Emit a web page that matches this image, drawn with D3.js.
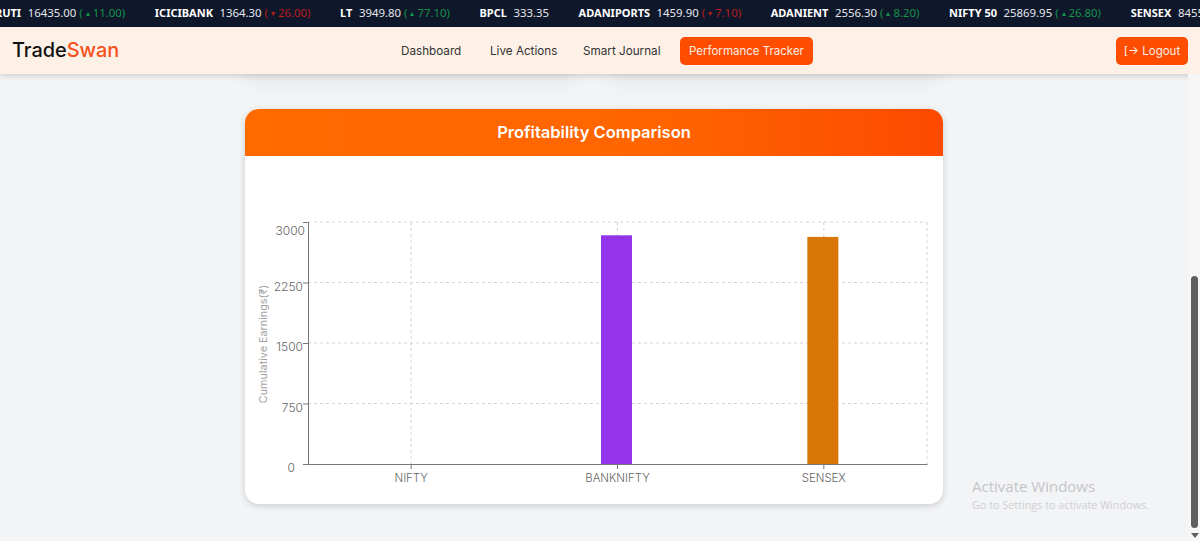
<!DOCTYPE html>
<html><head><meta charset="utf-8">
<script src="https://cdn.jsdelivr.net/npm/d3@7/dist/d3.min.js"></script>
<style>
html,body{margin:0;padding:0;width:1200px;height:541px;overflow:hidden;background:#f3f4f6;font-family:Inter,"Noto Sans",sans-serif}
#ticker{position:absolute;left:0;top:0;width:1200px;height:27px;background:#0f172a;overflow:hidden;white-space:nowrap;font:11.4px/27px "Noto Sans",sans-serif;color:#e5e7eb}
#ticker .row{position:absolute;left:-23px;top:-1px;display:flex;gap:29.6px}
#ticker b{color:#fff;font-weight:700;font-size:11px;margin-right:6.5px}
.up{color:#15934a}.down{color:#b91c1c}
#nav{position:absolute;left:0;top:27px;width:1200px;height:47px;background:#fdf1e7;box-shadow:0 2px 6px rgba(0,0,0,.16)}
#logo{position:absolute;left:12px;top:9px;font:500 19.9px/29px Inter,sans-serif;color:#111}
#logo span{color:#f4511e}
.link{position:absolute;top:10.5px;height:27px;font:11.7px/27px Inter,sans-serif;color:#333;white-space:nowrap}
.btn{position:absolute;top:10px;height:28px;background:#ff4d00;border-radius:5px;color:#fdeee3;font:11.5px/28px Inter,sans-serif;text-align:center;white-space:nowrap}
.ghost{position:absolute;top:66px;height:16px;background:rgba(0,0,0,.06);filter:blur(9px);border-radius:12px}
#card{position:absolute;left:245px;top:109px;width:698px;height:395px;background:#fff;border-radius:14px;box-shadow:0 2px 7px rgba(0,0,0,.16);overflow:hidden}
#head{height:47px;background:linear-gradient(90deg,#ff6a00 0%,#ff6400 60%,#fc4a00 100%);color:#fff;font:600 16.5px/47px Inter,sans-serif;text-align:center}
#chart{position:absolute;left:0;top:0}
#wm1{position:absolute;left:972px;top:476px;font:15px/20px "Open Sans",sans-serif;color:#c4c5c8}
#wm2{position:absolute;left:972px;top:497px;font:10.8px/16px "Open Sans",sans-serif;color:#cfd0d3}
#track{position:absolute;left:1188px;top:74px;width:12px;height:467px;background:#f6f6f7}
#thumb{position:absolute;left:1191px;top:276px;width:7px;height:252px;background:#5f5f5f;border-radius:4px}
#arrow{position:absolute;left:1191px;top:533px}
</style></head><body>
<div class="ghost" style="left:245px;width:330px"></div>
<div class="ghost" style="left:610px;width:330px"></div>
<div id="ticker"><div class="row"></div></div>
<div id="nav"><div id="logo">Trade<span>Swan</span></div></div>
<div id="card"><div id="head">Profitability Comparison</div></div>
<svg id="chart" width="1200" height="541" style="pointer-events:none"></svg>
<div id="wm1">Activate Windows</div><div id="wm2">Go to Settings to activate Windows.</div>
<div id="track"></div><div id="thumb"></div>
<svg id="arrow" width="8" height="6"><path d="M0 0H8L4 5Z" fill="#5f5f5f"/></svg>
<script>
const categories = ["NIFTY","BANKNIFTY","SENSEX"];
const earnings = [0,2835,2815];
const barColors = ["#2563eb","#9333ea","#d97706"];
const yTicks = [0,750,1500,2250,3000];
const yLabel = "Cumulative Earnings(₹)";
const tickerNames = ["MARUTI","ICICIBANK","LT","BPCL","ADANIPORTS","ADANIENT","NIFTY 50","SENSEX"];
const tickerPrices = ["16435.00","1364.30","3949.80","333.35","1459.90","2556.30","25869.95","84550.00"];
const tickerChanges = [11.00,-26.00,77.10,null,-7.10,8.20,26.80,null];
const navLinks = ["Dashboard","Live Actions","Smart Journal"];

const row = d3.select("#ticker .row");
tickerNames.forEach((n,i)=>{
  const s = row.append("span");
  s.append("b").text(n);
  s.append("span").text(tickerPrices[i]);
  const c = tickerChanges[i];
  if(c!==null){
    s.append("span").attr("class",c>0?"up":"down").style("margin-left","3px")
     .html(`( <span style="font-size:8px;vertical-align:1px">${c>0?"▴":"▾"}</span> ${Math.abs(c).toFixed(2)})`);
  }
});

const nav = d3.select("#nav");
const linkX = [401,490,583];
navLinks.forEach((t,i)=>nav.append("div").attr("class","link").style("left",linkX[i]+"px").text(t));
nav.append("div").attr("class","btn").style("left","680px").style("width","133px").text("Performance Tracker");
nav.append("div").attr("class","btn").style("left","1116px").style("width","72px").html("[→ Logout");

const svg = d3.select("#chart");
const L=308,R=927,T=222,B=464;
const x = d3.scaleBand().domain(categories).range([L,R]);
const y = d3.scaleLinear().domain([0,3000]).range([B,T]);
const barW = 31;

// grid
const grid = svg.append("g").attr("stroke","#d4d4d4").attr("stroke-dasharray","3 3").attr("fill","none");
grid.selectAll("line.h").data(yTicks.slice(1)).join("line").attr("class","h")
  .attr("x1",L).attr("x2",R).attr("y1",d=>y(d)).attr("y2",d=>y(d));
grid.selectAll("line.v").data(categories).join("line").attr("class","v")
  .attr("x1",d=>x(d)+x.bandwidth()/2).attr("x2",d=>x(d)+x.bandwidth()/2).attr("y1",T).attr("y2",B);
grid.append("line").attr("x1",R).attr("x2",R).attr("y1",T).attr("y2",B);

// bars
svg.selectAll("rect.bar").data(categories).join("rect").attr("class","bar")
  .attr("x",d=>x(d)+x.bandwidth()/2-barW/2-1).attr("width",barW)
  .attr("y",(d,i)=>y(earnings[i])).attr("height",(d,i)=>B-y(earnings[i]))
  .attr("fill",(d,i)=>barColors[i]);

// axes
const styleAxis = (g,size)=>{
  g.selectAll("path,line").attr("stroke","#777");
  g.selectAll("text").attr("fill","#666").style("font",size+"px Inter,sans-serif").style("font-weight","300");
};
const gy = svg.append("g").attr("transform",`translate(${L},0)`)
  .call(d3.axisLeft(y).tickValues(yTicks).tickSize(5).tickPadding(0).tickSizeOuter(5).tickFormat(d3.format("d")));
styleAxis(gy,12);
gy.selectAll(".tick text")
  .attr("x",d=>d===0?-13:d===3000?-3:-5)
  .attr("dy",d=>d===3000?"1.0em":"0.65em");
const gx = svg.append("g").attr("transform",`translate(0,${B})`)
  .call(d3.axisBottom(x).tickSize(5).tickPadding(5).tickSizeOuter(0));
styleAxis(gx,11.4);

svg.append("text").attr("transform",`translate(267,344) rotate(-90)`).attr("text-anchor","middle")
  .attr("fill","#a3a3a3").style("font","10.8px Inter,sans-serif").text(yLabel);
</script>
</body></html>
